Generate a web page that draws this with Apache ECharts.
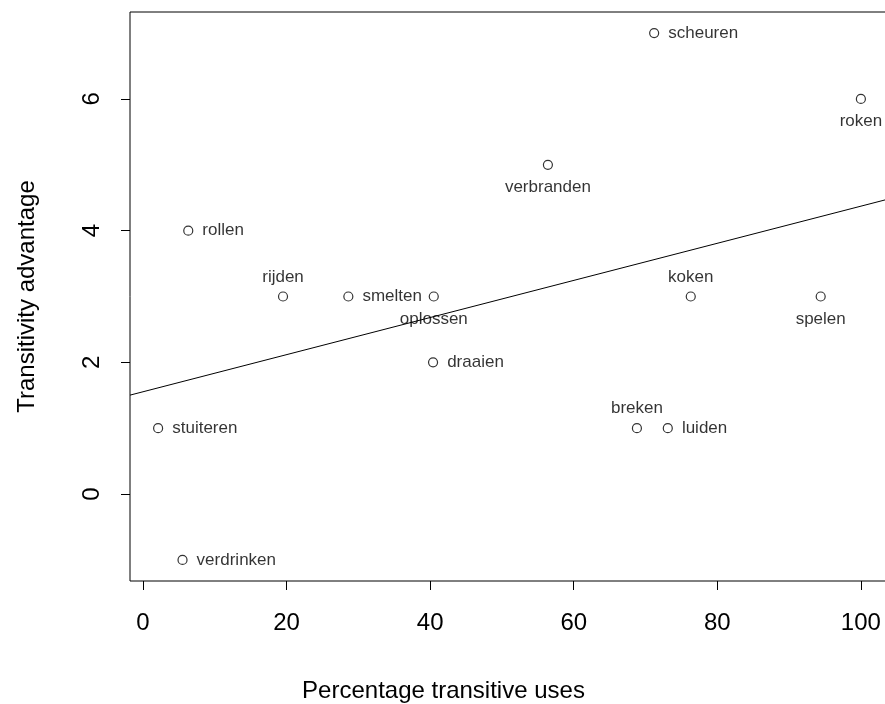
<!DOCTYPE html>
<html><head><meta charset="utf-8">
<script src="https://cdn.jsdelivr.net/npm/echarts@6/dist/echarts.min.js"></script>
<style>html,body{margin:0;padding:0;background:#fff}#c{width:885px;height:704px}</style>
</head><body><div id="c"></div>
<script>
// ---- data ----
const verbs = ['scheuren','roken','verbranden','rollen','rijden','smelten','oplossen','draaien','koken','spelen','stuiteren','verdrinken','breken','luiden'];
const pctTransitive = [71.2,100,56.4,6.3,19.5,28.6,40.5,40.4,76.3,94.4,2.1,5.5,68.8,73.1];
const advantage = [7,6,5,4,3,3,3,2,3,3,1,-1,1,1];
const xTicks = [0,20,40,60,80,100];
const yTicks = [0,2,4,6];
const xTitle = 'Percentage transitive uses';
const yTitle = 'Transitivity advantage';

// ---- styling ----
const labelSide = {scheuren:'right', roken:'bottom', verbranden:'bottom', rollen:'right', rijden:'top',
  smelten:'right', oplossen:'bottom', draaien:'right', koken:'top', spelen:'bottom',
  stuiteren:'right', verdrinken:'right', breken:'top', luiden:'right'};
const sideDistance = {right:9, bottom:9, top:6, left:9};
const FONT = 'Liberation Sans, Arial, sans-serif';

// R-style 4% axis extension
function ext(a){const lo=Math.min(...a),hi=Math.max(...a),d=(hi-lo)*0.04;return [lo-d,hi+d];}
const [xMin,xMax] = ext(pctTransitive);
const [yMin,yMax] = ext(advantage);

// least squares fit (abline(lm(y~x)))
const n = pctTransitive.length;
const mx = pctTransitive.reduce((s,v)=>s+v,0)/n;
const my = advantage.reduce((s,v)=>s+v,0)/n;
let sxy=0,sxx=0;
for(let i=0;i<n;i++){sxy+=(pctTransitive[i]-mx)*(advantage[i]-my);sxx+=(pctTransitive[i]-mx)**2;}
const slope = sxy/sxx, icpt = my - slope*mx;

const points = verbs.map((v,i)=>({
  value:[pctTransitive[i],advantage[i]],
  name:v,
  label:{position:labelSide[v],distance:sideDistance[labelSide[v]]}
}));

const chart = echarts.init(document.getElementById('c'),null,{renderer:'canvas'});
chart.setOption({
  animation:false,
  backgroundColor:'#fff',
  grid:{left:130,top:12,right:-4,bottom:123,show:true,borderColor:'#000',borderWidth:1,
        backgroundColor:'transparent',containLabel:false,outerBoundsMode:'none'},
  xAxis:{type:'value',min:xMin,max:xMax,
    axisLine:{show:false,onZero:false},splitLine:{show:false},
    axisTick:{show:true,inside:false,length:9,lineStyle:{color:'#000',width:1},customValues:xTicks},
    axisLabel:{customValues:xTicks,color:'#000',fontFamily:FONT,fontSize:24,margin:30},
    name:xTitle,nameLocation:'middle',nameGap:98,
    nameTextStyle:{color:'#000',fontFamily:FONT,fontSize:24,padding:[0,132,0,0]}},
  yAxis:{type:'value',min:yMin,max:yMax,
    axisLine:{show:false,onZero:false},splitLine:{show:false},
    axisTick:{show:true,inside:false,length:9,lineStyle:{color:'#000',width:1},customValues:yTicks},
    axisLabel:{customValues:yTicks,color:'#000',fontFamily:FONT,fontSize:24,margin:26,rotate:90},
    name:yTitle,nameLocation:'middle',nameGap:91,nameRotate:90,
    nameTextStyle:{color:'#000',fontFamily:FONT,fontSize:24}},
  series:[
    {type:'line',data:[[xMin,icpt+slope*xMin],[xMax,icpt+slope*xMax]],
     showSymbol:false,symbol:'none',lineStyle:{color:'#000',width:1},silent:true,z:1},
    {type:'scatter',data:points,symbol:'circle',symbolSize:9,
     itemStyle:{color:'transparent',borderColor:'#000',borderWidth:1.2},
     label:{show:true,formatter:'{b}',color:'#000',fontFamily:FONT,fontSize:17},
     emphasis:{disabled:true},silent:true,z:2}
  ]
});
</script></body></html>
